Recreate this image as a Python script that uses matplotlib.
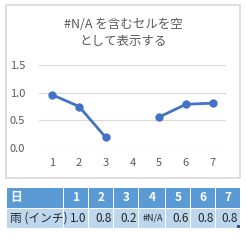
import matplotlib
matplotlib.use("Agg")
import matplotlib.pyplot as plt
from matplotlib.patches import Rectangle
import numpy as np

plt.rcParams['font.family'] = ['Noto Sans CJK JP', 'DejaVu Sans']

# data
days = [1, 2, 3, 4, 5, 6, 7]
rain = [0.96, 0.75, 0.19, np.nan, 0.56, 0.79, 0.81]
row_labels = ["日", "雨 (インチ)"]
title = "#N/A を含むセルを空\nとして表示する"
y_ticks = [0.0, 0.5, 1.0, 1.5]

W, H = 246, 240
fig = plt.figure(figsize=(W / 100, H / 100), dpi=100)
fig.patch.set_facecolor("white")

def fx(px):
    return px / W

def fy(py):
    return 1 - py / H

# chart border
fig.patches.append(Rectangle((fx(6), fy(178)), fx(234), 173 / H, transform=fig.transFigure,
                             fill=False, edgecolor="#D9D9D9", linewidth=1.2))

fig.text(fx(123), fy(33), title, ha="center", va="center", fontsize=9,
         color="#595959", linespacing=1.45)

ax = fig.add_axes([fx(39), fy(148), fx(187), 83 / H])
ax.plot(days, rain, color="#4472C4", linewidth=2, marker="o", markersize=5,
        solid_capstyle="round")
ax.set_xlim(0.5, 7.5)
ax.set_ylim(0, 1.5)
ax.set_yticks(y_ticks)
ax.set_yticklabels([f"{v:.1f}" for v in y_ticks])
ax.set_xticks(days)
ax.grid(axis="y", color="#D9D9D9", linewidth=0.8)
ax.set_axisbelow(True)
for s in ax.spines.values():
    s.set_visible(False)
ax.tick_params(length=0, labelsize=8, labelcolor="#595959", pad=7)
ax.tick_params(axis="y", pad=10)

# data table
tax = fig.add_axes([fx(6), fy(228), fx(234), 40 / H])
tax.set_xlim(0, 234)
tax.set_ylim(40, 0)
tax.axis("off")
edges = [0, 57.5, 82.5, 107.5, 132.5, 159.5, 184.5, 209.5, 234]
rows = [(0, 19.5, "#5B9BD5"), (20.5, 40, "#BDD7EE")]
for r, (y0, y1, col) in enumerate(rows):
    for c in range(len(edges) - 1):
        x0, x1 = edges[c], edges[c + 1]
        tax.add_patch(Rectangle((x0 + 0.5, y0), x1 - x0 - 1, y1 - y0, facecolor=col,
                                edgecolor="none"))
    ym = (y0 + y1) / 2
    if r == 0:
        tax.text(4, ym, row_labels[0], ha="left", va="center", fontsize=8.5,
                 color="white", fontweight="bold")
        for i, d in enumerate(days):
            tax.text((edges[i + 1] + edges[i + 2]) / 2, ym, str(d), ha="center",
                     va="center", fontsize=8.5, color="white", fontweight="bold")
    else:
        tax.text(4, ym, row_labels[1], ha="left", va="center", fontsize=8.5, color="#262626")
        for i, v in enumerate(rain):
            if np.isnan(v):
                tax.text(edges[i + 2] - 2, ym, "#N/A", ha="right", va="center",
                         fontsize=6.5, color="#262626")
            else:
                tax.text(edges[i + 2] - 2, ym, f"{v:.1f}", ha="right", va="center",
                         fontsize=8.5, color="#262626")
tax.add_patch(Rectangle((231, 37), 2.5, 2.5, facecolor="#2F5597", edgecolor="none"))

fig.savefig("out.png", dpi=100)
